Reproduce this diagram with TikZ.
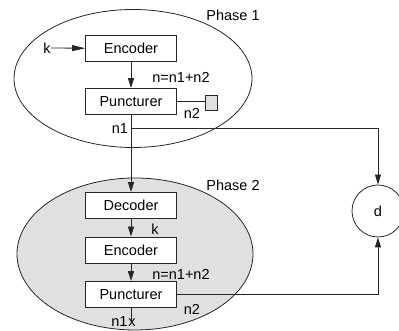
\documentclass[tikz,border=0pt]{standalone}
\usepackage{fontspec}
\setmainfont{Liberation Sans}
\usetikzlibrary{shapes}
\usetikzlibrary{arrows.meta}
\usetikzlibrary{positioning}

\begin{document}
\begin{tikzpicture}[x=1pt, y=1pt, black!85, line width = 0.8pt,
    font = \fontsize{14.5}{17}\selectfont,
    >={Triangle[length=10pt, width=6pt]},
    block/.style = {rectangle, draw, fill = white, text = black, minimum width = 91pt, minimum height = 26pt, inner sep = 0pt},
    lbl/.style = {text = black, inner sep = 0pt}]
    \useasboundingbox[clip] (0,0) rectangle (399,331);

    % the two phases
    \node (phase1) [ellipse, draw, minimum width = 238pt, minimum height = 138pt] at (133,252.5) {};
    \node (phase2) [ellipse, draw, fill = black!12, minimum width = 236pt, minimum height = 152pt] at (135,77) {};

    \node (label1) [lbl] at (233,316) {Phase 1};
    \node (label2) [lbl] at (233,146) {Phase 2};

    \begin{scope}[on grid]

        % phase 1
        \node (enc1) at (131,282.5) [block] {Encoder};
        \node (pun1) [block, below = 53 of enc1] {Puncturer};
        \node (k1) [lbl] at (47,283) {k};
        \node (store) [rectangle, draw, fill = black!12, minimum width = 12pt, minimum height = 15pt, inner sep = 0pt] at (211,228.5) {};

        \draw[-{Triangle[length=13pt, width=6pt]}] (k1) -- (enc1);
        \draw[->] (enc1) -- (pun1);
        \draw (pun1.east) -- (store.west |- pun1.east);

        \node (nsum1) [lbl] at (181,254) {n=n1+n2};
        \node (ntwo1) [lbl] at (192,218) {n2};
        \node (none1) [lbl] at (120,202) {n1};

        % phase 2
        \node (dec2) [block, below = 104 of pun1] {Decoder};
        \node (enc2) [block, below = 44.5 of dec2] {Encoder};
        \node (pun2) [block, below = 44.5 of enc2] {Puncturer};

        \draw[->] (pun1) -- (dec2);
        \draw[->] (dec2) -- (enc2);
        \draw[->] (enc2) -- (pun2);

        \node (k2) [lbl] at (155,102) {k};
        \node (nsum2) [lbl] at (181,57) {n=n1+n2};
        \node (ntwo2) [lbl] at (192,22) {n2};
        \node (none2) [lbl] at (119.5,9) {n1};
        \node (cross) [lbl] at (132,8) {x};
        \draw (pun2) -- (cross.center -| pun2.south);

        % decision
        \node (d) [circle, draw, fill = white, text = black, minimum size = 52pt, inner sep = 0pt] at (378,120) {d};
        \coordinate (branch) at (131,203);

        \draw[->] (branch) -| (d);
        \draw[->] (pun2) -| (d);

    \end{scope}

\end{tikzpicture}
\end{document}
